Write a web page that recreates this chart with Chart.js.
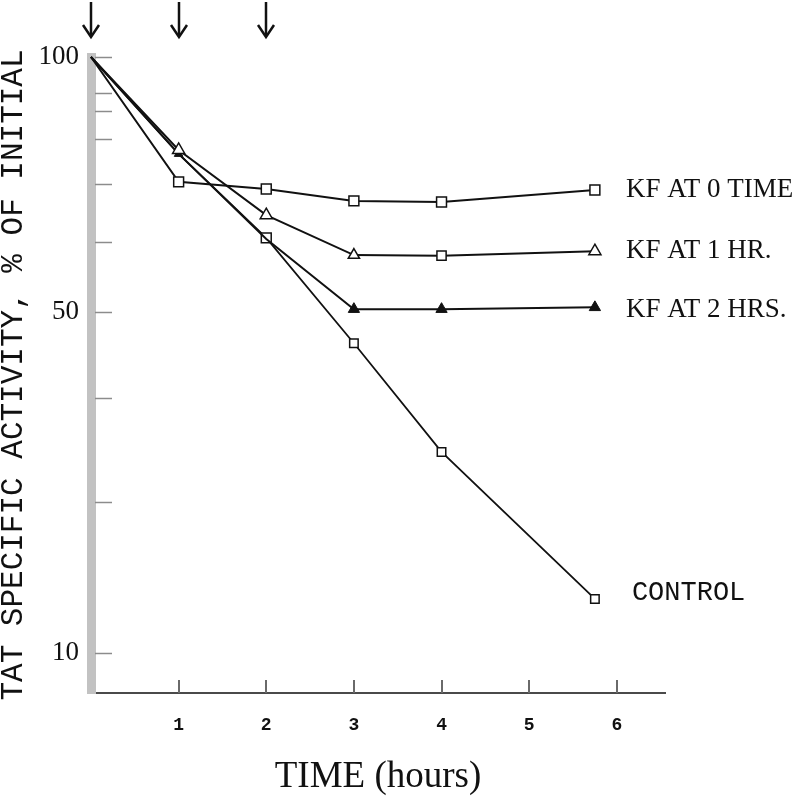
<!DOCTYPE html>
<html>
<head>
<meta charset="utf-8">
<script src="https://cdn.jsdelivr.net/npm/chart.js@4.4.1/dist/chart.umd.min.js"></script>
<style>
  html, body { margin: 0; padding: 0; background: #fff; }
  #wrap { width: 800px; height: 800px; }
</style>
</head>
<body>
<div id="wrap"><canvas id="c" width="800" height="800"></canvas></div>
<script>
// data
var timeHours = [0, 1, 2, 3, 4, 5.75];
var kf0Time  = [100, 73.4, 72.0, 69.7, 69.5, 71.8];
var kf1Hr    = [100, 79.8, 67.0, 59.7, 59.6, 60.4];
var kf2Hrs   = [100, 79.0, 62.6, 50.5, 50.5, 50.8];
var control  = [100, 79.0, 62.8, 45.1, 29.9, 14.3];
var seriesLabels = ['KF AT 0 TIME', 'KF AT 1 HR.', 'KF AT 2 HRS.', 'CONTROL'];

var yTickValues = [100, 92, 88, 82, 73, 62, 50, 37, 24, 10];
var yTickLabels = [100, 50, 10];
var xTickValues = [1, 2, 3, 4, 5, 6];
var arrowTimes  = [0, 1, 2];

// square-root value axis (the figure's spacing of 100 / 50 / 10)
class SqrtScale extends Chart.LinearScale {
	getPixelForValue(v) {
		if (v === null || v === undefined) return NaN;
		var a = Math.sqrt(this.min), b = Math.sqrt(this.max);
		return this.getPixelForDecimal((Math.sqrt(v) - a) / (b - a));
	}
	getValueForPixel(p) {
		var a = Math.sqrt(this.min), b = Math.sqrt(this.max);
		var s = a + this.getDecimalForPixel(p) * (b - a);
		return s * s;
	}
}
SqrtScale.id = 'sqrt';
SqrtScale.defaults = Chart.LinearScale.defaults;
Chart.register(SqrtScale);

function pts(ys) {
	return timeHours.map(function(t, i) { return { x: t, y: ys[i] }; });
}

var ink = '#111';

var tickMarks = {
	id: 'tickMarks',
	afterDatasetsDraw: function(chart) {
		var ctx = chart.ctx, xs = chart.scales.x, ys = chart.scales.y, a = chart.chartArea;
		ctx.save();
		ctx.strokeStyle = '#8c8c8c';
		ctx.lineWidth = 1.5;
		yTickValues.forEach(function(v) {
			var y = Math.round(ys.getPixelForValue(v)) + 0.5;
			ctx.beginPath(); ctx.moveTo(a.left + 4, y); ctx.lineTo(a.left + 21, y); ctx.stroke();
		});
		ctx.strokeStyle = '#6a6a6a';
		ctx.lineWidth = 2;
		xTickValues.forEach(function(v) {
			var x = Math.round(xs.getPixelForValue(v));
			ctx.beginPath(); ctx.moveTo(x, a.bottom); ctx.lineTo(x, a.bottom - 13); ctx.stroke();
		});
		// arrows on top
		ctx.strokeStyle = ink;
		ctx.lineWidth = 2.5;
		arrowTimes.forEach(function(t) {
			var x = Math.round(xs.getPixelForValue(t));
			ctx.beginPath(); ctx.moveTo(x, 2); ctx.lineTo(x, 36); ctx.stroke();
			ctx.beginPath(); ctx.moveTo(x - 8, 25); ctx.lineTo(x, 37); ctx.lineTo(x + 8, 25); ctx.stroke();
		});
		// end labels
		var dy = [0, 0, 3, -6];
		var dx = [31, 31, 31, 37];
		ctx.fillStyle = ink;
		ctx.textBaseline = 'middle';
		ctx.textAlign = 'left';
		chart.data.datasets.forEach(function(ds, i) {
			var last = ds.data[ds.data.length - 1];
			var x = xs.getPixelForValue(last.x) + dx[i];
			var y = ys.getPixelForValue(last.y) + dy[i];
			ctx.font = i === 3 ? '27px "Liberation Mono"' : '27px "Liberation Serif"';
			ctx.fillText(seriesLabels[i], x, y);
		});
		ctx.restore();
	}
};

var cfg = {
	type: 'line',
	data: {
		datasets: [
			{
				label: seriesLabels[0], data: pts(kf0Time),
				borderColor: ink, borderWidth: 2, backgroundColor: '#fff',
				pointStyle: 'rect', pointRadius: [0, 7, 7, 7, 7, 7],
				pointBorderColor: ink, pointBorderWidth: 1.5, pointBackgroundColor: '#fff'
			},
			{
				label: seriesLabels[1], data: pts(kf1Hr),
				borderColor: ink, borderWidth: 2, backgroundColor: '#fff',
				pointStyle: ['triangle', 'triangle', 'triangle', 'triangle', 'rect', 'triangle'],
				pointRadius: [0, 7, 7, 6.5, 6.5, 7],
				pointBorderColor: ink, pointBorderWidth: 1.5, pointBackgroundColor: '#fff'
			},
			{
				label: seriesLabels[2], data: pts(kf2Hrs),
				borderColor: ink, borderWidth: 2, backgroundColor: ink,
				pointStyle: 'triangle', pointRadius: [0, 5, 0, 6.5, 6.5, 6.5],
				pointBorderColor: ink, pointBorderWidth: 1, pointBackgroundColor: ink
			},
			{
				label: seriesLabels[3], data: pts(control),
				borderColor: ink, borderWidth: 1.8, backgroundColor: '#fff',
				pointStyle: 'rect', pointRadius: [0, 0, 7, 6, 6, 6],
				pointBorderColor: ink, pointBorderWidth: 1.5, pointBackgroundColor: '#fff'
			}
		]
	},
	options: {
		responsive: false,
		animation: false,
		clip: false,
		layout: { padding: { top: 57, right: 135, left: 0, bottom: 0 } },
		plugins: { legend: { display: false }, tooltip: { enabled: false } },
		elements: { line: { tension: 0 } },
		scales: {
			x: {
				type: 'linear', min: 0, max: 6.55,
				grid: { display: false, drawTicks: false },
				border: { display: true, color: '#4a4a4a', width: 2 },
				afterBuildTicks: function(s) { s.ticks = xTickValues.map(function(v) { return { value: v }; }); },
				afterFit: function(s) { s.height = 107; },
				ticks: {
					autoSkip: false, maxRotation: 0, padding: 22, color: ink,
					font: { family: 'Liberation Mono', size: 18, weight: 'bold' }
				},
				title: {
					display: true, text: 'TIME (hours)', color: ink,
					font: { family: 'Liberation Serif', size: 37, lineHeight: 1.2 },
					padding: { top: 0, bottom: 1 }
				}
			},
			y: {
				type: 'sqrt', min: 7.3, max: 100,
				grid: { display: false, drawTicks: false },
				border: { display: true, color: '#c2c2c2', width: 9 },
				afterBuildTicks: function(s) { s.ticks = yTickValues.map(function(v) { return { value: v }; }); },
				afterFit: function(s) { s.width = 91; },
				ticks: {
					autoSkip: false, padding: 12, color: ink,
					font: { family: 'Liberation Serif', size: 27 },
					callback: function(v) { return yTickLabels.indexOf(v) >= 0 ? String(v) : ''; }
				},
				title: {
					display: true, text: 'TAT SPECIFIC ACTIVITY, % OF INITIAL', color: ink,
					font: { family: 'Liberation Mono', size: 31, lineHeight: 0.9 },
					padding: 0
				}
			}
		}
	},
	plugins: [tickMarks]
};

new Chart(document.getElementById('c'), cfg);
</script>
</body>
</html>
